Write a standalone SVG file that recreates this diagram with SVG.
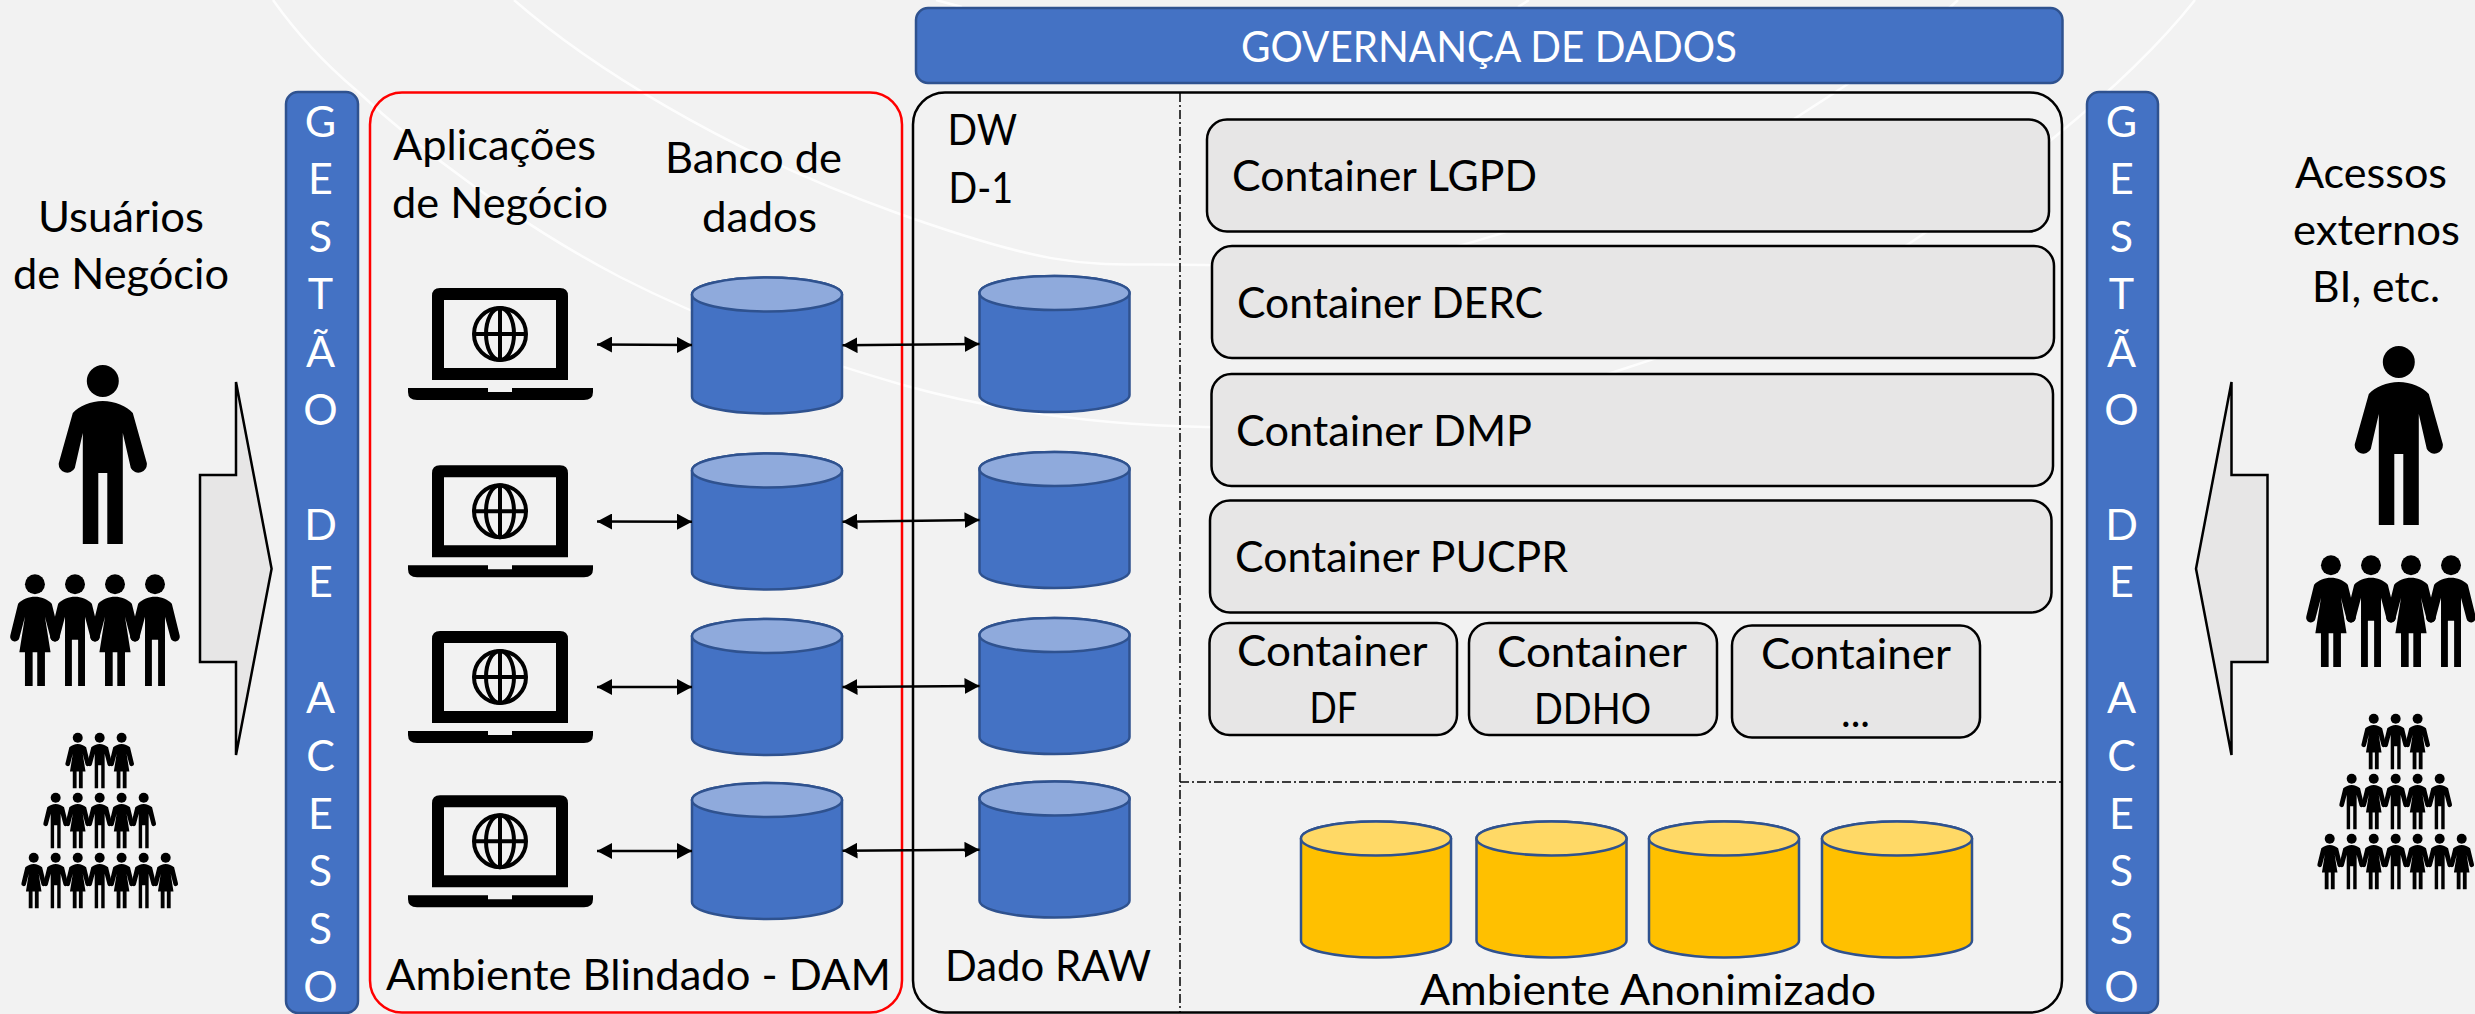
<svg xmlns="http://www.w3.org/2000/svg" width="2475" height="1014" viewBox="0 0 2475 1014">
<style>
text{font-family:"Lato","Open Sans","Liberation Sans",sans-serif;font-size:43px;fill:#000}
.w{fill:#fff}
.m{text-anchor:middle}
.bar{fill:#4472c4;stroke:#2f528f;stroke-width:2.5}
.cont{fill:#e7e6e6;stroke:#000;stroke-width:2.5}
.frame{fill:none;stroke:#000;stroke-width:2.5}
.red{fill:none;stroke:#f00;stroke-width:2.5}
.dash{fill:none;stroke:#000;stroke-width:1.5;stroke-dasharray:9 3 2 3}
.arc{fill:none;stroke:#fff;stroke-width:2.5;opacity:.85}
.blk{fill:#000}
.blockarrow{fill:#e7e6e6;stroke:#000;stroke-width:2.5;stroke-linejoin:miter}
.conn{fill:none;stroke:#000;stroke-width:2.5;marker-start:url(#ah);marker-end:url(#ah)}
.body-b{fill:#4472c4;stroke:#2f528f;stroke-width:2.5}
.top-b{fill:#8faadc;stroke:#2f528f;stroke-width:2.5}
.body-y{fill:#ffc000;stroke:#2f528f;stroke-width:2.5}
.top-y{fill:#ffd966;stroke:#2f528f;stroke-width:2.5}
</style>
<defs>
<marker id="ah" markerUnits="userSpaceOnUse" markerWidth="16" markerHeight="16" refX="15" refY="8" orient="auto-start-reverse"><path d="M0,0 L15,8 L0,16 Z" fill="#000"/></marker>
<g id="cb"><path class="body-b" d="M0,17 A75,17 0 0 1 150,17 V119 A75,17 0 0 1 0,119 Z"/><ellipse class="top-b" cx="75" cy="17" rx="75" ry="17"/></g>
<g id="cy"><path class="body-y" d="M0,17 A75,17 0 0 1 150,17 V119 A75,17 0 0 1 0,119 Z"/><ellipse class="top-y" cx="75" cy="17" rx="75" ry="17"/></g>
<g id="laptop">
<path class="blk" fill-rule="evenodd" d="M432,380 V296 Q432,288 440,288 H560 Q568,288 568,296 V380 Z M444,300 V368 H556 V300 Z"/>
<path class="blk" d="M408,388 H488 V392 H512 V388 H593 V392 Q593,400 584,400 H417 Q408,400 408,392 Z"/>
<g fill="none" stroke="#000" stroke-width="4"><circle cx="500" cy="334" r="26"/><ellipse cx="500" cy="334" rx="14" ry="26"/><path d="M500,308 V360 M474,334 H526"/></g>
</g>
<g id="man"><circle cx="0" cy="16" r="16"/><path d="M0,36 C12,36 24,41 30,48 L44,98 A8.5,8.5 0 0 1 28,103 L20,68 V179 H4.5 V108 H-4.5 V179 H-20 V68 L-28,103 A8.5,8.5 0 0 1 -44,98 L-30,48 C-24,41 -12,36 0,36 Z"/></g>
<g id="man2"><circle cx="0" cy="16" r="16"/><path d="M0,36 C10,36 20,40 27,47 L39.5,98 A7.5,7.5 0 0 1 25,102 L16,68 V179 H5 V105 H-5 V179 H-16 V68 L-25,102 A7.5,7.5 0 0 1 -39.5,98 L-27,47 C-20,40 -10,36 0,36 Z"/></g>
<g id="woman2"><circle cx="0" cy="16" r="16"/><path d="M0,36 C10,36 20,40 27,47 L39.5,98 A7.5,7.5 0 0 1 25,102 L16,68 L25,125 H16 V179 H3.7 V125 H-3.7 V179 H-16 V125 H-25 L-16,68 L-25,102 A7.5,7.5 0 0 1 -39.5,98 L-27,47 C-20,40 -10,36 0,36 Z"/></g>
<g id="people">
<use href="#man" x="102.8" y="365"/>
<g transform="translate(0,574.3) scale(.624)"><use href="#woman2" x="56"/><use href="#man2" x="120.2"/><use href="#woman2" x="184.3"/><use href="#man2" x="248.4"/></g>
<g transform="translate(0,732.7) scale(.311)"><use href="#woman2" x="250"/><use href="#man2" x="320.5"/><use href="#woman2" x="391"/></g>
<g transform="translate(0,792.7) scale(.311)"><use href="#man2" x="179"/><use href="#woman2" x="250"/><use href="#man2" x="320.5"/><use href="#woman2" x="391"/><use href="#man2" x="462"/></g>
<g transform="translate(0,852.7) scale(.311)"><use href="#woman2" x="108.4"/><use href="#man2" x="179"/><use href="#woman2" x="250"/><use href="#man2" x="320.5"/><use href="#woman2" x="391"/><use href="#man2" x="462"/><use href="#woman2" x="532.8"/></g>
</g>
</defs>
<rect width="2475" height="1014" fill="#f2f2f2"/>
<g id="background-arcs">
<path class="arc" d="M514,0 C585,62 720,150 897,213 S1090,262 1205,265 C1300,268 1400,262 1467,243.6 C1600,205 1730,160 1797,117 C1850,83 1910,45 1958,0"/>
<path class="arc" d="M273,0 C300,38 330,68 356,90 C420,150 520,225 620,277 C710,323 800,355 903,385 C1000,412 1100,425 1205,427 C1350,432 1490,412 1614,372 C1730,335 1830,295 1910,243 C1990,190 2120,95 2195,0"/>
<path class="arc" d="M936,0 L962,7 M1518,7 L1529,0"/>
</g>
<g id="usuarios"><text x="38" y="232" textLength="166" lengthAdjust="spacingAndGlyphs">Usuários</text><text x="13" y="289" textLength="216" lengthAdjust="spacingAndGlyphs">de Negócio</text><use href="#people"/></g>
<g id="arrow-left"><path class="blockarrow" d="M236,382 L271.6,568.7 L236,755 V662 H200 V475 H236 Z"/></g>
<g id="gestao-esquerda"><rect class="bar" x="286" y="92" width="72" height="921" rx="12"/>
<text class="w m" x="320.5" y="137">G</text><text class="w m" x="320.5" y="194">E</text><text class="w m" x="320.5" y="252">S</text><text class="w m" x="320.5" y="309">T</text><text class="w m" x="320.5" y="367">Ã</text><text class="w m" x="320.5" y="425">O</text><text class="w m" x="320.5" y="540">D</text><text class="w m" x="320.5" y="597">E</text><text class="w m" x="320.5" y="713">A</text><text class="w m" x="320.5" y="771">C</text><text class="w m" x="320.5" y="829">E</text><text class="w m" x="320.5" y="886">S</text><text class="w m" x="320.5" y="944">S</text><text class="w m" x="320.5" y="1002">O</text>
</g>
<g id="ambiente-blindado"><rect class="red" x="370" y="92.5" width="532" height="920" rx="32"/>
<text x="393" y="160" textLength="203" lengthAdjust="spacingAndGlyphs">Aplicações</text><text x="392" y="218" textLength="216" lengthAdjust="spacingAndGlyphs">de Negócio</text>
<text x="665" y="173" textLength="177" lengthAdjust="spacingAndGlyphs">Banco de</text><text x="702" y="232" textLength="115" lengthAdjust="spacingAndGlyphs">dados</text>
<text x="386" y="990" textLength="505" lengthAdjust="spacingAndGlyphs">Ambiente Blindado - DAM</text></g>
<g id="governanca"><rect class="bar" x="916" y="8" width="1146.5" height="75" rx="12"/><text class="w" x="1241" y="62" textLength="496" lengthAdjust="spacingAndGlyphs">GOVERNANÇA DE DADOS</text></g>
<g id="dw"><rect class="frame" x="913" y="92.5" width="1149" height="920" rx="32"/>
<path class="dash" d="M1180,93 V1012 M1180,782 H2062"/>
<text x="947.5" y="145" textLength="69.5" lengthAdjust="spacingAndGlyphs">DW</text><text x="948.5" y="203" textLength="64.5" lengthAdjust="spacingAndGlyphs">D-1</text>
<text x="945" y="981" textLength="206" lengthAdjust="spacingAndGlyphs">Dado RAW</text></g>
<g id="laptop-1"><use href="#laptop"/></g>
<g id="laptop-2"><use href="#laptop" y="177.3"/></g>
<g id="laptop-3"><use href="#laptop" y="343"/></g>
<g id="laptop-4"><use href="#laptop" y="507.3"/></g>
<g id="banco-1"><use href="#cb" x="692" y="277.5"/></g>
<g id="banco-2"><use href="#cb" x="692" y="453.5"/></g>
<g id="banco-3"><use href="#cb" x="692" y="619"/></g>
<g id="banco-4"><use href="#cb" x="692" y="783"/></g>
<g id="raw-1"><use href="#cb" x="979.5" y="276"/></g>
<g id="raw-2"><use href="#cb" x="979.5" y="452"/></g>
<g id="raw-3"><use href="#cb" x="979.5" y="618"/></g>
<g id="raw-4"><use href="#cb" x="979.5" y="781.5"/></g>
<g id="connectors">
<path class="conn" d="M597,344.5 L692,345"/><path class="conn" d="M597,521.5 L692,521.7"/><path class="conn" d="M597,687 L692,687"/><path class="conn" d="M597,851 L692,851"/>
<path class="conn" d="M842.5,345.3 L979.5,344"/><path class="conn" d="M842.5,521.7 L979.5,520"/><path class="conn" d="M842.5,687 L979.5,686"/><path class="conn" d="M842.5,850.7 L979.5,849.7"/>
</g>
<g id="container-lgpd"><rect class="cont" x="1207" y="119.5" width="842" height="112" rx="20"/><text x="1232" y="191" textLength="305" lengthAdjust="spacingAndGlyphs">Container LGPD</text></g>
<g id="container-derc"><rect class="cont" x="1212" y="246" width="842" height="112" rx="20"/><text x="1237" y="318" textLength="306" lengthAdjust="spacingAndGlyphs">Container DERC</text></g>
<g id="container-dmp"><rect class="cont" x="1211.5" y="374" width="841.5" height="112" rx="20"/><text x="1236" y="446" textLength="296" lengthAdjust="spacingAndGlyphs">Container DMP</text></g>
<g id="container-pucpr"><rect class="cont" x="1210" y="500.5" width="841.5" height="112" rx="20"/><text x="1235" y="572" textLength="333" lengthAdjust="spacingAndGlyphs">Container PUCPR</text></g>
<g id="container-df"><rect class="cont" x="1209.5" y="623" width="247.5" height="112" rx="20"/><text x="1237" y="666" textLength="190.5" lengthAdjust="spacingAndGlyphs">Container</text><text x="1309.5" y="723" textLength="47.5" lengthAdjust="spacingAndGlyphs">DF</text></g>
<g id="container-ddho"><rect class="cont" x="1469" y="623" width="248" height="112" rx="20"/><text x="1497" y="667" textLength="190" lengthAdjust="spacingAndGlyphs">Container</text><text x="1534" y="724" textLength="117" lengthAdjust="spacingAndGlyphs">DDHO</text></g>
<g id="container-etc"><rect class="cont" x="1732" y="625.5" width="248" height="112" rx="20"/><text x="1761" y="669" textLength="190" lengthAdjust="spacingAndGlyphs">Container</text><text x="1841" y="727" textLength="29" lengthAdjust="spacingAndGlyphs">...</text></g>
<g id="anon-1"><use href="#cy" x="1301" y="821.5"/></g>
<g id="anon-2"><use href="#cy" x="1476.5" y="821.5"/></g>
<g id="anon-3"><use href="#cy" x="1649" y="821.5"/></g>
<g id="anon-4"><use href="#cy" x="1822" y="821.5"/></g>
<g id="ambiente-anonimizado"><text x="1420" y="1005" textLength="456" lengthAdjust="spacingAndGlyphs">Ambiente Anonimizado</text></g>
<g id="gestao-direita"><rect class="bar" x="2087" y="92" width="71" height="921" rx="12"/>
<text class="w m" x="2121.5" y="137">G</text><text class="w m" x="2121.5" y="194">E</text><text class="w m" x="2121.5" y="252">S</text><text class="w m" x="2121.5" y="309">T</text><text class="w m" x="2121.5" y="367">Ã</text><text class="w m" x="2121.5" y="425">O</text><text class="w m" x="2121.5" y="540">D</text><text class="w m" x="2121.5" y="597">E</text><text class="w m" x="2121.5" y="713">A</text><text class="w m" x="2121.5" y="771">C</text><text class="w m" x="2121.5" y="829">E</text><text class="w m" x="2121.5" y="886">S</text><text class="w m" x="2121.5" y="944">S</text><text class="w m" x="2121.5" y="1002">O</text>
</g>
<g id="arrow-right"><path class="blockarrow" d="M2231.5,382 L2196,568.7 L2231.5,755 V662 H2267.5 V475 H2231.5 Z"/></g>
<g id="acessos-externos"><text x="2295" y="188" textLength="152" lengthAdjust="spacingAndGlyphs">Acessos</text><text x="2293" y="245" textLength="167" lengthAdjust="spacingAndGlyphs">externos</text><text x="2312" y="302" textLength="128" lengthAdjust="spacingAndGlyphs">BI, etc.</text><use href="#people" transform="translate(2296,-19)"/></g>
</svg>
